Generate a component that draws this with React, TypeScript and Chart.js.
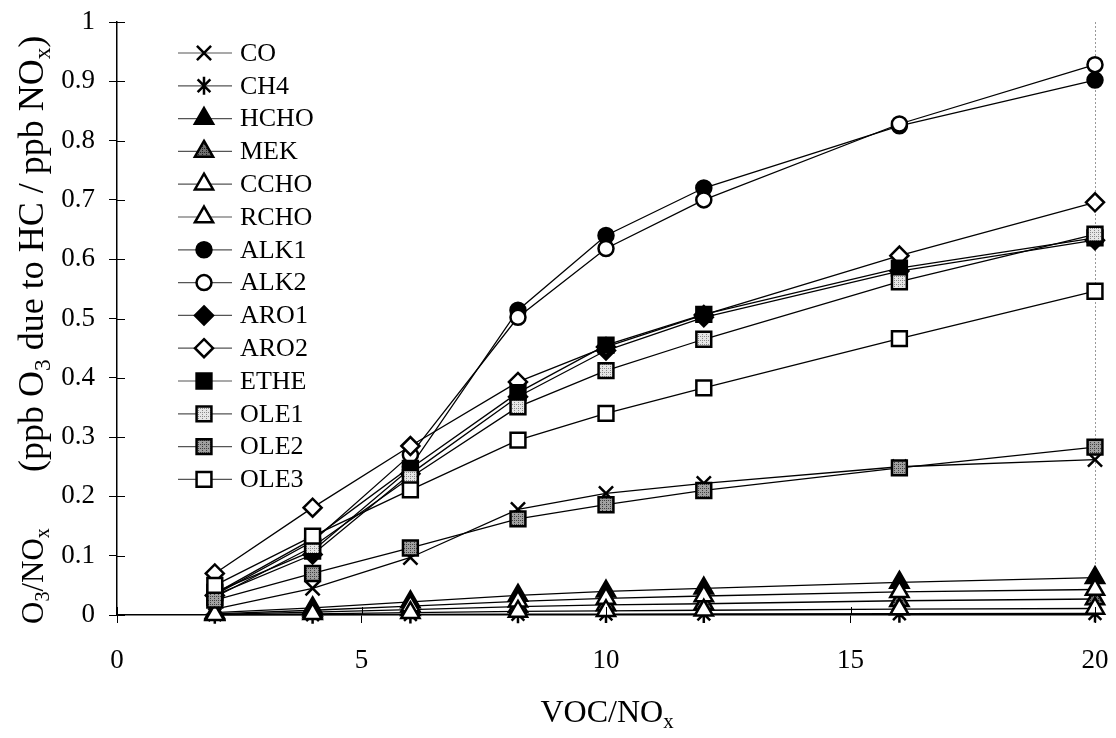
import React, { useEffect, useRef } from 'react';
import { Chart, registerables } from 'chart.js';

Chart.register(...registerables);

const FONT = '"Liberation Serif", "Times New Roman", serif';

const xValues = [2, 4, 6, 8.2, 10, 12, 16, 20];
const xTicks = [0, 5, 10, 15, 20];
const yTicks = [0, 0.1, 0.2, 0.3, 0.4, 0.5, 0.6, 0.7, 0.8, 0.9, 1];

const seriesNames = ['CO', 'CH4', 'HCHO', 'MEK', 'CCHO', 'RCHO', 'ALK1', 'ALK2', 'ARO1', 'ARO2', 'ETHE', 'OLE1', 'OLE2', 'OLE3'];

const CO = [0.010, 0.045, 0.097, 0.178, 0.205, 0.222, 0.250, 0.262];
const CH4 = [0.0003, 0.0006, 0.001, 0.0014, 0.0016, 0.0018, 0.0022, 0.0025];
const HCHO = [0.004, 0.012, 0.022, 0.033, 0.040, 0.045, 0.055, 0.063];
const MEK = [0.001, 0.005, 0.009, 0.014, 0.017, 0.019, 0.024, 0.027];
const CCHO = [0.002, 0.008, 0.015, 0.023, 0.028, 0.032, 0.039, 0.043];
const RCHO = [0.0005, 0.002, 0.004, 0.006, 0.007, 0.008, 0.010, 0.011];
const ALK1 = [0.036, 0.128, 0.250, 0.514, 0.640, 0.720, 0.825, 0.902];
const ALK2 = [0.034, 0.124, 0.270, 0.502, 0.618, 0.700, 0.828, 0.928];
const ARO1 = [0.033, 0.102, 0.238, 0.368, 0.446, 0.502, 0.580, 0.632];
const ARO2 = [0.070, 0.181, 0.285, 0.393, 0.452, 0.506, 0.606, 0.696];
const ETHE = [0.038, 0.108, 0.247, 0.375, 0.455, 0.507, 0.585, 0.636];
const OLE1 = [0.030, 0.115, 0.232, 0.351, 0.412, 0.465, 0.562, 0.642];
const OLE2 = [0.025, 0.070, 0.113, 0.162, 0.186, 0.210, 0.248, 0.283];
const OLE3 = [0.050, 0.133, 0.211, 0.295, 0.340, 0.383, 0.466, 0.546];

const seriesValues = [CO, CH4, HCHO, MEK, CCHO, RCHO, ALK1, ALK2, ARO1, ARO2, ETHE, OLE1, OLE2, OLE3];

type Marker = { style: string; fill: string; r: number };

function makePattern(bg: string, dot: string): CanvasPattern | string {
  const c = document.createElement('canvas');
  c.width = 4;
  c.height = 4;
  const g = c.getContext('2d');
  if (!g) return bg;
  g.fillStyle = bg;
  g.fillRect(0, 0, 4, 4);
  g.fillStyle = dot;
  g.fillRect(0, 0, 1, 1);
  g.fillRect(2, 2, 1, 1);
  g.fillRect(2, 0, 1, 1);
  const p = g.createPattern(c, 'repeat');
  return p || bg;
}

function drawMarker(ctx: CanvasRenderingContext2D, m: Marker, x: number, y: number, fill: any) {
  const r = m.r;
  ctx.save();
  ctx.lineWidth = 2.5;
  ctx.strokeStyle = '#000';
  ctx.fillStyle = fill;
  ctx.beginPath();
  switch (m.style) {
    case 'circle':
      ctx.arc(x, y, r, 0, Math.PI * 2);
      ctx.closePath();
      ctx.fill();
      ctx.stroke();
      break;
    case 'triangle': {
      const s = Math.sin((2 * Math.PI) / 3) * r;
      ctx.moveTo(x, y - r);
      ctx.lineTo(x + s, y + r / 2);
      ctx.lineTo(x - s, y + r / 2);
      ctx.closePath();
      ctx.fill();
      ctx.stroke();
      break;
    }
    case 'rect': {
      const s = Math.SQRT1_2 * r;
      ctx.rect(x - s, y - s, 2 * s, 2 * s);
      ctx.fill();
      ctx.stroke();
      break;
    }
    case 'rectRot':
      ctx.moveTo(x, y - r);
      ctx.lineTo(x + r, y);
      ctx.lineTo(x, y + r);
      ctx.lineTo(x - r, y);
      ctx.closePath();
      ctx.fill();
      ctx.stroke();
      break;
    case 'crossRot': {
      const d = Math.SQRT1_2 * r;
      ctx.moveTo(x - d, y - d);
      ctx.lineTo(x + d, y + d);
      ctx.moveTo(x + d, y - d);
      ctx.lineTo(x - d, y + d);
      ctx.stroke();
      break;
    }
    case 'star': {
      const d = Math.SQRT1_2 * r;
      ctx.moveTo(x - d, y - d);
      ctx.lineTo(x + d, y + d);
      ctx.moveTo(x + d, y - d);
      ctx.lineTo(x - d, y + d);
      ctx.moveTo(x, y - r);
      ctx.lineTo(x, y + r);
      ctx.stroke();
      break;
    }
  }
  ctx.restore();
}

type Seg = { t: string; sub?: boolean };

function drawRich(ctx: CanvasRenderingContext2D, segs: Seg[], x: number, y: number, size: number) {
  let cx = x;
  for (const s of segs) {
    const fs = s.sub ? size * 0.65 : size;
    ctx.font = `${fs}px ${FONT}`;
    ctx.fillText(s.t, cx, s.sub ? y + size * 0.2 : y);
    cx += ctx.measureText(s.t).width;
  }
  return cx - x;
}

function richWidth(ctx: CanvasRenderingContext2D, segs: Seg[], size: number) {
  let w = 0;
  for (const s of segs) {
    const fs = s.sub ? size * 0.65 : size;
    ctx.font = `${fs}px ${FONT}`;
    w += ctx.measureText(s.t).width;
  }
  return w;
}

function clearScalePadding(s: any) {
  s.paddingLeft = 0;
  s.paddingRight = 0;
  s.paddingTop = 0;
  s.paddingBottom = 0;
}

export default function App() {
  const ref = useRef<HTMLCanvasElement | null>(null);

  useEffect(() => {
    const canvas = ref.current;
    if (!canvas) return;
    document.body.style.margin = '0';

    const light = makePattern('#e6e6e6', '#8a8a8a');
    const dark = makePattern('#a0a0a0', '#404040');
    const hatch = makePattern('#707070', '#202020');

    const markers: Marker[] = [
      { style: 'crossRot', fill: '#fff', r: 10 },
      { style: 'star', fill: '#fff', r: 9 },
      { style: 'triangle', fill: '#000', r: 10.5 },
      { style: 'triangle', fill: 'hatch', r: 10.5 },
      { style: 'triangle', fill: '#fff', r: 10.5 },
      { style: 'triangle', fill: '#fff', r: 10.5 },
      { style: 'circle', fill: '#000', r: 7.5 },
      { style: 'circle', fill: '#fff', r: 7.5 },
      { style: 'rectRot', fill: '#000', r: 9 },
      { style: 'rectRot', fill: '#fff', r: 9 },
      { style: 'rect', fill: '#000', r: 10.5 },
      { style: 'rect', fill: 'light', r: 10.5 },
      { style: 'rect', fill: 'dark', r: 10.5 },
      { style: 'rect', fill: '#fff', r: 10.5 },
    ];
    const fillOf = (f: string): any => (f === 'light' ? light : f === 'dark' ? dark : f === 'hatch' ? hatch : f);

    const datasets = seriesNames.map((name, i) => ({
      label: name,
      data: xValues.map((x, j) => ({ x, y: seriesValues[i][j] })),
      borderColor: '#000',
      borderWidth: 1.3,
      pointStyle: markers[i].style,
      pointRadius: markers[i].r,
      pointBorderWidth: 2.5,
      pointBorderColor: '#000',
      pointBackgroundColor: fillOf(markers[i].fill),
      backgroundColor: fillOf(markers[i].fill),
      fill: false,
      tension: 0,
      clip: false,
      order: -i,
    }));

    const decor = {
      id: 'decor',
      beforeDatasetsDraw(chart: any) {
        const ctx: CanvasRenderingContext2D = chart.ctx;
        const area = chart.chartArea;
        ctx.save();
        ctx.strokeStyle = '#999';
        ctx.lineWidth = 1;
        ctx.setLineDash([2, 2]);
        ctx.beginPath();
        ctx.moveTo(Math.round(area.right) + 0.5, area.top);
        ctx.lineTo(Math.round(area.right) + 0.5, area.bottom);
        ctx.stroke();
        ctx.restore();
      },
      afterDraw(chart: any) {
        const ctx: CanvasRenderingContext2D = chart.ctx;
        const area = chart.chartArea;
        const xs = chart.scales.x;
        const ys = chart.scales.y;
        ctx.save();
        // inner halves of tick marks
        ctx.strokeStyle = '#000';
        ctx.lineWidth = 1;
        ctx.beginPath();
        for (const v of xTicks) {
          const px = Math.round(xs.getPixelForValue(v)) + 0.5;
          ctx.moveTo(px, area.bottom);
          ctx.lineTo(px, area.bottom - 8);
        }
        for (const v of yTicks) {
          const py = Math.round(ys.getPixelForValue(v)) + 0.5;
          ctx.moveTo(area.left, py);
          ctx.lineTo(area.left + 8, py);
        }
        ctx.stroke();

        // legend
        const rowY0 = 53;
        const rowH = 32.8;
        ctx.textBaseline = 'middle';
        seriesNames.forEach((name, i) => {
          const y = rowY0 + rowH * i;
          ctx.strokeStyle = '#555';
          ctx.lineWidth = 1.2;
          ctx.beginPath();
          ctx.moveTo(178, y);
          ctx.lineTo(232, y);
          ctx.stroke();
          drawMarker(ctx, markers[i], 204, y, fillOf(markers[i].fill));
          ctx.fillStyle = '#000';
          ctx.font = `26px ${FONT}`;
          ctx.textAlign = 'left';
          ctx.fillText(name, 240, y + 1);
        });

        // x axis title
        ctx.fillStyle = '#000';
        ctx.textBaseline = 'alphabetic';
        ctx.textAlign = 'left';
        const xt: Seg[] = [{ t: 'VOC/NO' }, { t: 'x', sub: true }];
        const xw = richWidth(ctx, xt, 32);
        drawRich(ctx, xt, 607 - xw / 2, 722, 32);

        // y axis title (rotated)
        ctx.save();
        ctx.translate(43, 0);
        ctx.rotate(-Math.PI / 2);
        const y1: Seg[] = [{ t: 'O' }, { t: '3', sub: true }, { t: '/NO' }, { t: 'x', sub: true }];
        drawRich(ctx, y1, -624, 0, 31);
        const y2: Seg[] = [
          { t: '(ppb O' }, { t: '3', sub: true }, { t: ' due to HC / ppb NO' }, { t: 'x', sub: true }, { t: ')' },
        ];
        drawRich(ctx, y2, -472, 0, 36);
        ctx.restore();

        ctx.restore();
      },
    };

    const chart = new Chart(canvas, {
      type: 'line',
      data: { datasets: datasets as any },
      options: {
        animation: false,
        responsive: false,
        maintainAspectRatio: false,
        devicePixelRatio: 1,
        layout: { padding: { top: 22, right: 21, left: 0, bottom: 0 } },
        plugins: { legend: { display: false }, tooltip: { enabled: false } },
        elements: { line: { tension: 0 } },
        scales: {
          x: {
            type: 'linear',
            min: 0,
            max: 20,
            afterBuildTicks: (s: any) => {
              s.ticks = xTicks.map((v) => ({ value: v }));
            },
            afterFit: (s: any) => {
              s.height = 123;
              clearScalePadding(s);
            },
            grid: { display: true, drawOnChartArea: false, drawTicks: true, tickLength: 8, color: '#000', lineWidth: 1 },
            border: { display: true, color: '#000', width: 1.5 },
            ticks: {
              color: '#000',
              font: { family: FONT, size: 27 },
              padding: 22,
              maxRotation: 0,
              autoSkip: false,
              callback: (v: any) => String(v),
            },
          },
          y: {
            type: 'linear',
            min: 0,
            max: 1,
            afterBuildTicks: (s: any) => {
              s.ticks = yTicks.map((v) => ({ value: v }));
            },
            afterFit: (s: any) => {
              s.width = 117;
              clearScalePadding(s);
            },
            grid: { display: true, drawOnChartArea: false, drawTicks: true, tickLength: 8, color: '#000', lineWidth: 1 },
            border: { display: true, color: '#000', width: 1.5 },
            ticks: {
              color: '#000',
              font: { family: FONT, size: 27 },
              padding: 14,
              autoSkip: false,
              callback: (v: any) => String(Math.round(Number(v) * 10) / 10),
            },
          },
        },
      } as any,
      plugins: [decor],
    });

    return () => {
      chart.destroy();
    };
  }, []);

  return (
    <div style={{ position: 'fixed', left: 0, top: 0, width: 1116, height: 738, background: '#fff' }}>
      <canvas ref={ref} width={1116} height={738} style={{ width: 1116, height: 738, display: 'block' }} />
    </div>
  );
}
